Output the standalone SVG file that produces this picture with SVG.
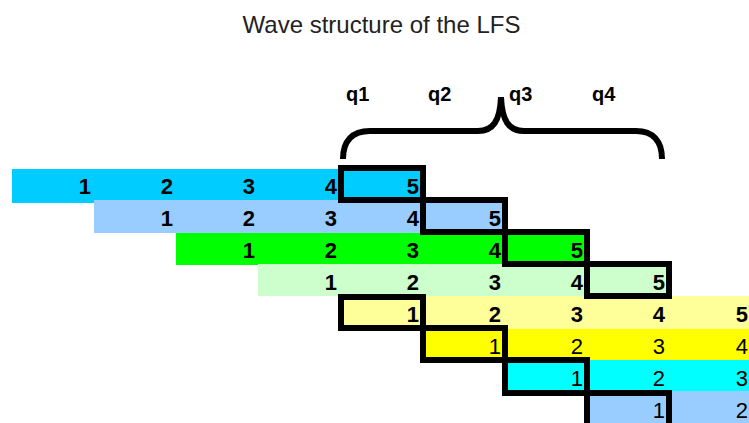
<svg xmlns="http://www.w3.org/2000/svg" width="749" height="423" viewBox="0 0 749 423">
<style>
.t{font-family:"Liberation Sans",Arial,sans-serif;fill:#000}
.title{font-size:24px;fill:#222}
.q{font-size:20px;font-weight:bold}
.d{font-size:22px;text-anchor:end}
.b{font-weight:bold}
.box{fill:none;stroke:#000;stroke-width:6;stroke-linejoin:miter}
</style>
<rect width="749" height="423" fill="#fff"/>
<text class="t title" x="381.5" y="33" text-anchor="middle">Wave structure of the LFS</text>
<g id="quarters">
<text class="t q" x="346" y="101">q1</text>
<text class="t q" x="428" y="101">q2</text>
<text class="t q" x="509" y="101">q3</text>
<text class="t q" x="592" y="101">q4</text>
</g>
<g id="brace">
<path d="M343 159 C343 141 352 131 370 131 L478 131 C493 131 500 121 501 97 C502 121 509 131 524 131 L636 131 C653 131 662 141 662 159" fill="none" stroke="#000" stroke-width="6" stroke-linecap="butt"/>
</g>
<g id="row1">
<rect x="12" y="169" width="410" height="34" fill="#00CCFF"/>
<g class="t d b"><text x="91" y="194">1</text><text x="173" y="194">2</text><text x="255" y="194">3</text><text x="337" y="194">4</text><text x="419" y="194">5</text></g>
</g>
<g id="row2">
<rect x="94" y="200" width="410" height="33" fill="#99CCFF"/>
<g class="t d b"><text x="173" y="226">1</text><text x="255" y="226">2</text><text x="337" y="226">3</text><text x="419" y="226">4</text><text x="501" y="226">5</text></g>
</g>
<g id="row3">
<rect x="176" y="233" width="410" height="32" fill="#00FF00"/>
<g class="t d b"><text x="255" y="258">1</text><text x="337" y="258">2</text><text x="419" y="258">3</text><text x="501" y="258">4</text><text x="583" y="258">5</text></g>
</g>
<g id="row4">
<rect x="258" y="264" width="410" height="32" fill="#CCFFCC"/>
<g class="t d b"><text x="337" y="290">1</text><text x="419" y="290">2</text><text x="501" y="290">3</text><text x="583" y="290">4</text><text x="665" y="290">5</text></g>
</g>
<g id="row5">
<rect x="340" y="296" width="409" height="33" fill="#FFFF99"/>
<g class="t d b"><text x="419" y="322">1</text><text x="501" y="322">2</text><text x="583" y="322">3</text><text x="665" y="322">4</text><text x="748" y="322">5</text></g>
</g>
<g id="row6">
<rect x="422" y="329" width="327" height="31" fill="#FFFF00"/>
<g class="t d"><text x="501" y="354">1</text><text x="583" y="354">2</text><text x="665" y="354">3</text><text x="748" y="354">4</text></g>
</g>
<g id="row7">
<rect x="504" y="360" width="245" height="31" fill="#00FFFF"/>
<g class="t d"><text x="583" y="386">1</text><text x="665" y="386">2</text><text x="748" y="386">3</text></g>
</g>
<g id="row8">
<rect x="586" y="391" width="163" height="32" fill="#99CCFF"/>
<g class="t d"><text x="665" y="418">1</text><text x="748" y="418">2</text></g>
</g>
<g id="boxes">
<rect class="box" x="341" y="168" width="82" height="32"/>
<rect class="box" x="423" y="200" width="82" height="32"/>
<rect class="box" x="505" y="232" width="82" height="32"/>
<rect class="box" x="587" y="264" width="82" height="32"/>
<rect class="box" x="341" y="297" width="82" height="31"/>
<rect class="box" x="423" y="328" width="82" height="32"/>
<rect class="box" x="505" y="360" width="82" height="33"/>
<rect class="box" x="587" y="393" width="82" height="36"/>
</g>
</svg>
